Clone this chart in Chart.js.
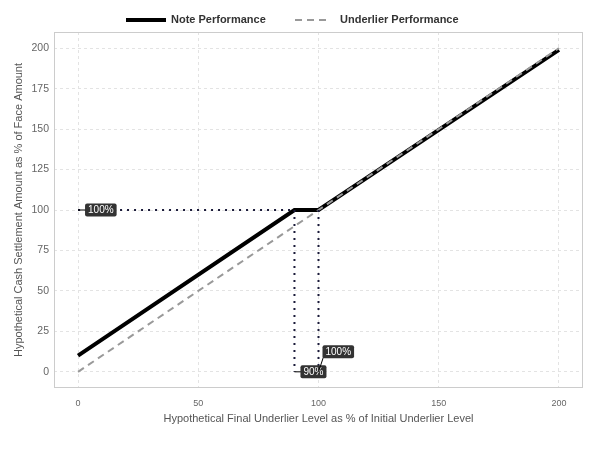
<!DOCTYPE html>
<html><head><meta charset="utf-8">
<script src="https://cdn.jsdelivr.net/npm/chart.js@4/dist/chart.umd.min.js"></script>
<style>html,body{margin:0;padding:0;background:#fff}#wrap{width:600px;height:450px}</style>
</head><body><div id="wrap"><canvas id="c" width="600" height="450"></canvas></div>
<script>
const noteX = [0, 90, 100, 200];
const noteY = [10, 100, 100, 199];
const underX = [0, 100, 200];
const underY = [0, 100, 200];
const xTicks = [0, 50, 100, 150, 200];
const yTicks = [0, 25, 50, 75, 100, 125, 150, 175, 200];
const seriesNames = ['Note Performance', 'Underlier Performance'];
const refLines = [
  [[0, 100], [90, 100]],
  [[90, 100], [90, 0]],
  [[100, 100], [100, 0]]
];
const labelsData = [
  {x: 0, y: 100, text: '100%', dx: 7, dy: 0},
  {x: 90, y: 0, text: '90%', dx: 6, dy: 0},
  {x: 100, y: 0, text: '100%', dx: 4, dy: -20}
];

const pts = (xs, ys) => xs.map((x, i) => ({x, y: ys[i]}));
const datasets = [];
refLines.forEach(l => datasets.push({
  label: 'ref', data: l.map(p => ({x: p[0], y: p[1]})),
  borderColor: '#1b1b3a', borderWidth: 2, borderDash: [2, 5], pointRadius: 0, showLine: true, fill: false
}));
datasets.push({label: seriesNames[1], data: pts(underX, underY), borderColor: '#999999', borderWidth: 2, borderDash: [7, 5], pointRadius: 0, showLine: true, fill: false});
datasets.push({label: seriesNames[0], data: pts(noteX, noteY), borderColor: '#000000', borderWidth: 4, pointRadius: 0, showLine: true, fill: false, borderCapStyle: 'butt'});

const extras = {
  id: 'extras',
  beforeDraw(chart) {
    const {ctx} = chart;
    ctx.save();
    ctx.fillStyle = '#fff';
    ctx.fillRect(0, 0, chart.width, chart.height);
    ctx.restore();
  },
  afterDatasetsDraw(chart) {
    const {ctx, chartArea: a, scales} = chart;
    const xs = scales.x, ys = scales.y;
    ctx.save();
    ctx.strokeStyle = '#cccccc'; ctx.lineWidth = 1;
    ctx.strokeRect(a.left + 0.5, a.top + 0.5, a.right - a.left - 1, a.bottom - a.top - 1);
    ctx.font = '10px "Liberation Sans", Arial, sans-serif';
    ctx.textBaseline = 'middle';
    labelsData.forEach(l => {
      const px = xs.getPixelForValue(l.x), py = ys.getPixelForValue(l.y);
      const w = ctx.measureText(l.text).width + 6, h = 13;
      const bx = px + l.dx, by = py + l.dy - h / 2;
      ctx.strokeStyle = '#000'; ctx.lineWidth = 1;
      ctx.beginPath(); ctx.moveTo(px, py); ctx.lineTo(bx + 1, py + l.dy + (l.dy ? 5 : 0)); ctx.stroke();
      ctx.fillStyle = '#333333';
      ctx.beginPath();
      if (ctx.roundRect) ctx.roundRect(bx, by, w, h, 2); else ctx.rect(bx, by, w, h);
      ctx.fill();
      ctx.fillStyle = '#ffffff'; ctx.textAlign = 'left';
      ctx.fillText(l.text, bx + 3, by + h / 2 + 0.5);
    });
    const ly = 20;
    ctx.lineWidth = 4; ctx.strokeStyle = '#000'; ctx.setLineDash([]);
    ctx.beginPath(); ctx.moveTo(126, ly); ctx.lineTo(166, ly); ctx.stroke();
    ctx.lineWidth = 2; ctx.strokeStyle = '#999'; ctx.setLineDash([7, 5]);
    ctx.beginPath(); ctx.moveTo(295, ly); ctx.lineTo(331, ly); ctx.stroke();
    ctx.setLineDash([]);
    ctx.fillStyle = '#333'; ctx.font = 'bold 11px "Liberation Sans", Arial, sans-serif';
    ctx.textAlign = 'left'; ctx.textBaseline = 'middle';
    ctx.fillText(seriesNames[0], 171, ly);
    ctx.fillText(seriesNames[1], 340, ly);
    ctx.restore();
  }
};

const grid = {color: '#e3e3e3', lineWidth: 1, drawTicks: false};
new Chart(document.getElementById('c'), {
  type: 'scatter',
  data: {datasets},
  options: {
    responsive: false, animation: false, devicePixelRatio: 1,
    layout: {padding: {top: 32, right: 17, bottom: 20, left: 8}},
    plugins: {legend: {display: false}, tooltip: {enabled: false}},
    scales: {
      x: {
        type: 'linear', min: -10, max: 210,
        afterBuildTicks: s => { s.ticks = xTicks.map(v => ({value: v})); },
        afterFit: s => { s.height = 42; },
        grid: grid, border: {display: false, dash: [3, 3]},
        ticks: {color: '#666', font: {size: 9, family: '"Liberation Sans", Arial, sans-serif'}, padding: 10, maxRotation: 0},
        title: {display: true, text: 'Hypothetical Final Underlier Level as % of Initial Underlier Level', color: '#555', font: {size: 11, family: '"Liberation Sans", Arial, sans-serif'}, padding: {top: 3}}
      },
      y: {
        type: 'linear', min: -10, max: 210,
        afterBuildTicks: s => { s.ticks = yTicks.map(v => ({value: v})); },
        afterFit: s => { s.width = 46; },
        grid: grid, border: {display: false, dash: [3, 3]},
        ticks: {color: '#666', font: {size: 10.5, family: '"Liberation Sans", Arial, sans-serif'}, padding: 5},
        title: {display: true, text: 'Hypothetical Cash Settlement Amount as % of Face Amount', color: '#555', font: {size: 11, family: '"Liberation Sans", Arial, sans-serif'}, padding: {bottom: 4}}
      }
    }
  },
  plugins: [extras]
});
</script></body></html>
